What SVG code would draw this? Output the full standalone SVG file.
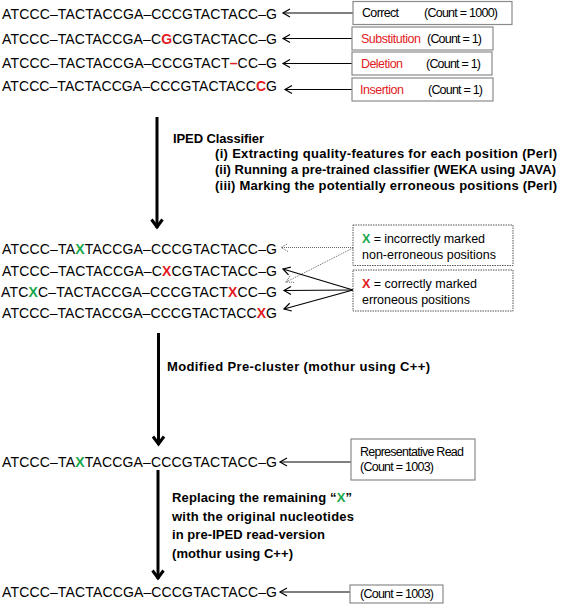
<svg xmlns="http://www.w3.org/2000/svg" width="567" height="605" viewBox="0 0 567 605">
<defs>
<style>
text{font-family:"Liberation Sans",Arial,sans-serif;fill:#000}
.seq{font-size:14px}
.lbl{font-size:12.5px}
.mlbl{font-size:12.5px}
.bold{font-size:13px;font-weight:bold}
.r{fill:#e31b23;font-weight:bold}
.g{fill:#18a84a;font-weight:bold}
.rl{fill:#e31b23}
.sbox{fill:#fff;stroke:#8a8a8a;stroke-width:1.2}
.dbox{fill:#fff;stroke:#555;stroke-width:1;stroke-dasharray:1.5 1}
.thin{stroke:#000;stroke-width:1.2;fill:none}
.dot{stroke:#666;stroke-width:1;stroke-dasharray:1 1;fill:none}
.big{stroke:#000;stroke-width:3;fill:none}
</style>
<marker id="ah" viewBox="-9 -6 11 12" refX="0" refY="0" markerWidth="11" markerHeight="12" markerUnits="userSpaceOnUse" orient="auto">
<path d="M-7,-4 L0,0 L-7,4" fill="none" stroke="#000" stroke-width="1.2"/>
</marker>
<marker id="ahd" viewBox="-9 -6 11 12" refX="0" refY="0" markerWidth="11" markerHeight="12" markerUnits="userSpaceOnUse" orient="auto">
<path d="M-7,-4 L0,0 L-7,4" fill="none" stroke="#666" stroke-width="1" stroke-dasharray="1 1"/>
</marker>
<marker id="bh" viewBox="-12 -8 14 16" refX="0" refY="0" markerWidth="14" markerHeight="16" markerUnits="userSpaceOnUse" orient="auto">
<path d="M-8.5,-5.5 L-1,0 L-8.5,5.5" fill="none" stroke="#000" stroke-width="3"/>
</marker>
</defs>

<g id="connectors">
<line class="thin" x1="353" y1="13" x2="283" y2="13" marker-end="url(#ah)"/>
<line class="thin" x1="352" y1="38.5" x2="283" y2="38.5" marker-end="url(#ah)"/>
<line class="thin" x1="352" y1="63.5" x2="283" y2="63.5" marker-end="url(#ah)"/>
<line class="thin" x1="352" y1="89.5" x2="285" y2="89.5" marker-end="url(#ah)"/>
<line class="big" x1="157" y1="117" x2="157" y2="228" marker-end="url(#bh)"/>
<line class="dot" x1="353" y1="247.5" x2="281" y2="247.5" marker-end="url(#ahd)"/>
<line class="dot" x1="353" y1="248" x2="286" y2="282" marker-end="url(#ahd)"/>
<line class="thin" x1="353" y1="290" x2="283" y2="269" marker-end="url(#ah)"/>
<line class="thin" x1="353" y1="290" x2="284" y2="290.5" marker-end="url(#ah)"/>
<line class="thin" x1="353" y1="290" x2="284" y2="309" marker-end="url(#ah)"/>
<line class="big" x1="158.5" y1="333" x2="158.5" y2="445" marker-end="url(#bh)"/>
<line class="thin" x1="351" y1="462" x2="280" y2="462" marker-end="url(#ah)"/>
<line class="big" x1="158" y1="470" x2="158" y2="579" marker-end="url(#bh)"/>
<line class="thin" x1="350" y1="592" x2="280" y2="592" marker-end="url(#ah)"/>
</g>

<g id="reads-input">
<text class="seq" x="2" y="19" textLength="275">ATCCC–TACTACCGA–CCCGTACTACC–G</text>
<text class="seq" x="2" y="43.5" textLength="275">ATCCC–TACTACCGA–C<tspan class="r">G</tspan>CGTACTACC–G</text>
<text class="seq" x="2" y="67.5" textLength="275">ATCCC–TACTACCGA–CCCGTACT<tspan class="r">–</tspan>CC–G</text>
<text class="seq" x="2" y="91" textLength="275">ATCCC–TACTACCGA–CCCGTACTACC<tspan class="r">C</tspan>G</text>
</g>

<g id="box-correct">
<rect class="sbox" x="353" y="1.5" width="159" height="23"/>
<text class="lbl" x="362" y="17" textLength="37">Correct</text>
<text class="lbl" x="424" y="17" textLength="74">(Count = 1000)</text>
</g>
<g id="box-substitution">
<rect class="sbox" x="352" y="27" width="141" height="23"/>
<text class="lbl rl" x="361" y="42.5" textLength="60">Substitution</text>
<text class="lbl" x="427" y="42.5" textLength="55">(Count = 1)</text>
</g>
<g id="box-deletion">
<rect class="sbox" x="352" y="52" width="140" height="23"/>
<text class="lbl rl" x="361" y="67.5" textLength="42">Deletion</text>
<text class="lbl" x="426" y="67.5" textLength="55">(Count = 1)</text>
</g>
<g id="box-insertion">
<rect class="sbox" x="352" y="78" width="141" height="23"/>
<text class="lbl rl" x="360" y="93.5" textLength="44">Insertion</text>
<text class="lbl" x="428" y="93.5" textLength="55">(Count = 1)</text>
</g>

<g id="label-iped">
<text class="bold" x="173" y="142.5" textLength="91">IPED Classifier</text>
<text class="bold" x="215" y="158" textLength="342">(i) Extracting quality-features for each position (Perl)</text>
<text class="bold" x="215" y="173.5" textLength="341">(ii) Running a pre-trained classifier (WEKA using JAVA)</text>
<text class="bold" x="215" y="189.5" textLength="342">(iii) Marking the potentially erroneous positions (Perl)</text>
</g>

<g id="reads-marked">
<text class="seq" x="2" y="254" textLength="275">ATCCC–TA<tspan class="g">X</tspan>TACCGA–CCCGTACTACC–G</text>
<text class="seq" x="2" y="276" textLength="275">ATCCC–TACTACCGA–C<tspan class="r">X</tspan>CGTACTACC–G</text>
<text class="seq" x="1" y="296.5" textLength="276">ATC<tspan class="g">X</tspan>C–TACTACCGA–CCCGTACT<tspan class="r">X</tspan>CC–G</text>
<text class="seq" x="2" y="317.5" textLength="275">ATCCC–TACTACCGA–CCCGTACTACC<tspan class="r">X</tspan>G</text>
</g>

<g id="box-incorrect">
<rect class="dbox" x="353" y="225" width="160" height="40.5"/>
<text class="mlbl" x="362" y="242.5" textLength="123"><tspan class="g">X</tspan> = incorrectly marked</text>
<text class="mlbl" x="362" y="258.5" textLength="134">non-erroneous positions</text>
</g>
<g id="box-correctly">
<rect class="dbox" x="353" y="270" width="160" height="41"/>
<text class="mlbl" x="362" y="287.5"><tspan class="r">X</tspan> = correctly marked</text>
<text class="mlbl" x="362" y="303.5" textLength="108">erroneous positions</text>
</g>

<g id="label-precluster">
<text class="bold" x="167" y="370.5" textLength="263">Modified Pre-cluster (mothur using C++)</text>
</g>

<g id="read-representative">
<text class="seq" x="2" y="467" textLength="275">ATCCC–TA<tspan class="g">X</tspan>TACCGA–CCCGTACTACC–G</text>
</g>
<g id="box-representative">
<rect class="sbox" x="351" y="439" width="124" height="41"/>
<text class="lbl" x="360" y="455.5" textLength="104">Representative Read</text>
<text class="lbl" x="360" y="470.5" textLength="74">(Count = 1003)</text>
</g>

<g id="label-replacing">
<text class="bold" x="172" y="501.5" textLength="180">Replacing the remaining “<tspan class="g">X</tspan>”</text>
<text class="bold" x="172" y="520.5" textLength="182">with the original nucleotides</text>
<text class="bold" x="172" y="539" textLength="153">in pre-IPED read-version</text>
<text class="bold" x="172" y="557.5" textLength="121">(mothur using C++)</text>
</g>

<g id="read-final">
<text class="seq" x="2" y="597" textLength="275">ATCCC–TACTACCGA–CCCGTACTACC–G</text>
</g>
<g id="box-final">
<rect class="sbox" x="350" y="585" width="93" height="18"/>
<text class="lbl" x="360" y="598" textLength="74">(Count = 1003)</text>
</g>
</svg>
